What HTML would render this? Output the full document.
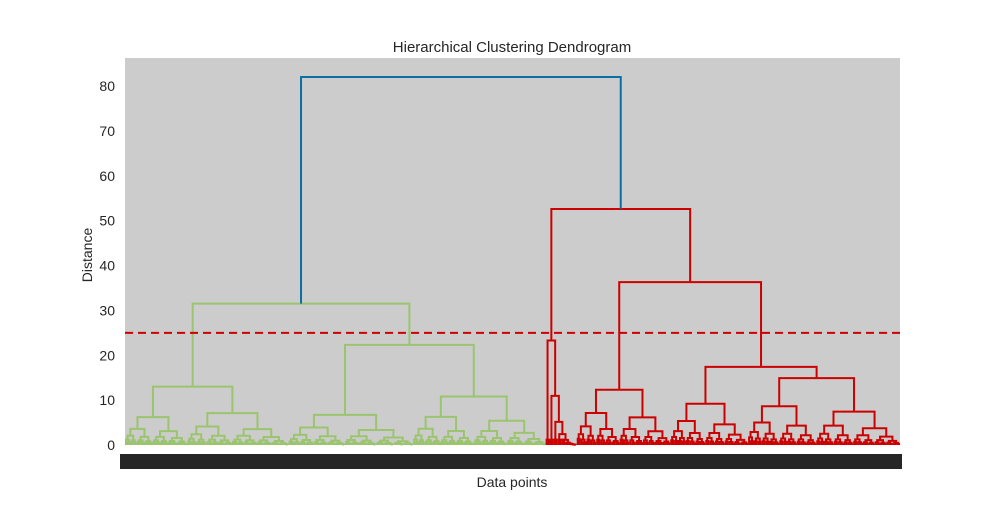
<!DOCTYPE html>
<html><head><meta charset="utf-8"><style>
body{margin:0;background:#fff}
text{font-family:"Liberation Sans",sans-serif;fill:#262626}
</style></head><body>
<svg id="chart" width="1000" height="500" xmlns="http://www.w3.org/2000/svg">
<rect x="125" y="58" width="775" height="387" fill="#cccccc"/>
<text x="512" y="52" font-size="15" text-anchor="middle">Hierarchical Clustering Dendrogram</text>
<text transform="translate(92,255) rotate(-90)" font-size="14" text-anchor="middle">Distance</text>
<text x="512" y="487" font-size="14" text-anchor="middle">Data points</text>
<rect x="120" y="454" width="782" height="15" fill="#262626"/>
<g id="yticks"></g>
<g id="links"></g>
</svg>
<script>
const yTicks=[0,10,20,30,40,50,60,70,80];
const threshold=25;
// cluster tree: [height, left, right]; leaf clusters: {n: leafCount, h: topHeight}
const greenTree=[31.5,[13,{n:32,h:6.2},{n:52,h:7.1}],[22.3,{n:64,h:6.7},{n:68,h:10.8}]];
const redTree=[52.6,{n:16,h:23.3,chain:true},[36.3,{n:48,h:12.3},[17.4,{n:40,h:9.2},{n:78,h:14.9}]]];
const rootHeight=82;
const colors={green:"#9bc46f",red:"#cc0000",root:"#0a6fa3"};
const NS="http://www.w3.org/2000/svg";
const X0=125,X1=900,Y0=445,YS=4.4875;
function y(v){return Y0-v*YS;}
function count(t){if(Array.isArray(t))return count(t[1])+count(t[2]);return t.n;}
const N=count(greenTree)+count(redTree);
function xl(i){return X0+(i+0.5)*(X1-X0)/N;}
const links=document.getElementById('links');
function line(pts,col,name,dash){
  const p=document.createElementNS(NS,'polyline');
  p.setAttribute('points',pts.map(q=>q.join(',')).join(' '));
  p.setAttribute('fill','none');p.setAttribute('stroke',col);p.setAttribute('stroke-width','2');
  if(dash)p.setAttribute('stroke-dasharray',dash);
  
  
  links.appendChild(p);
}
function expand(c){
  if(c.n<=1)return null;
  if(c.chain){
    if(c.n>6)return [c.h,{n:2,h:1.2},{n:c.n-2,h:c.h*0.47,chain:true}];
    return [c.h,{n:1,h:0},{n:c.n-1,h:c.h*0.6,chain:c.n>3}];
  }
  const a=Math.max(1,Math.round(c.n*0.45));
  return [c.h,{n:a,h:c.h*0.58},{n:c.n-a,h:c.h*0.5}];
}
function draw(t,start,col){
  if(!Array.isArray(t)){const e=expand(t);if(!e)return [xl(start),0];t=e;}
  const nl=count(t[1]);
  const L=draw(t[1],start,col),R=draw(t[2],start+nl,col);
  line([[L[0],y(L[1])],[L[0],y(t[0])],[R[0],y(t[0])],[R[0],y(R[1])]],col,'cluster-link');
  return [(L[0]+R[0])/2,t[0]];
}
const G=draw(greenTree,0,colors.green);
const R=draw(redTree,count(greenTree),colors.red);
line([[G[0],y(G[1])],[G[0],y(rootHeight)],[R[0],y(rootHeight)],[R[0],y(R[1])]],colors.root,'root-link');
line([[X0,y(threshold)],[X1,y(threshold)]],colors.red,'threshold-line','8,5');
const yt=document.getElementById('yticks');
yTicks.forEach(v=>{
  const t=document.createElementNS(NS,'text');
  t.setAttribute('x',115);t.setAttribute('y',y(v)+5);
  t.setAttribute('text-anchor','end');t.setAttribute('font-size','14');
  t.textContent=v;
  
  
  yt.appendChild(t);
});
</script>
</body></html>
